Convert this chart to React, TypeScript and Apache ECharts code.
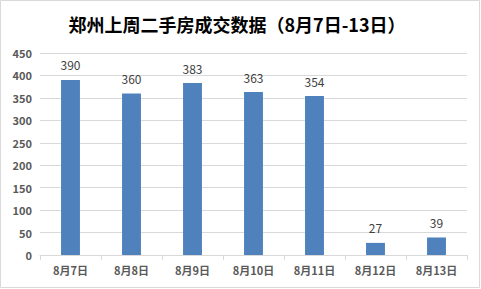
import React, { useEffect, useRef } from "react";
import * as echarts from "echarts";

const categories = ["8月7日", "8月8日", "8月9日", "8月10日", "8月11日", "8月12日", "8月13日"];
const values = [390, 360, 383, 363, 354, 27, 39];
const titleText = "郑州上周二手房成交数据（8月7日-13日）";

export default function App() {
  const ref = useRef<HTMLDivElement>(null);
  useEffect(() => {
    const chart = echarts.init(ref.current!, null, { renderer: "svg" });
    chart.setOption({
      animation: false,
      backgroundColor: "#ffffff",
      title: {
        text: titleText,
        left: 232,
        textAlign: "center",
        top: 10,
        textStyle: {
          fontFamily: "Noto Sans CJK SC",
          fontSize: 18,
          fontWeight: "bold",
          color: "#000000",
        },
      },
      graphic: [
        {
          type: "rect",
          shape: { x: 0.5, y: 0.5, width: 479, height: 287 },
          style: { fill: "none", stroke: "#d9d9d9", lineWidth: 1 },
          silent: true,
        },
      ],
      grid: { left: 40, right: 14, top: 53, bottom: 34 },
      xAxis: {
        type: "category",
        data: categories,
        axisLine: { lineStyle: { color: "#d9d9d9" } },
        axisTick: { show: true, alignWithLabel: false, length: 5, lineStyle: { color: "#d9d9d9" } },
        axisLabel: {
          color: "#595959",
          fontFamily: "Noto Sans CJK SC",
          fontWeight: "bold",
          fontSize: 11,
          margin: 9,
          interval: 0,
        },
      },
      yAxis: {
        type: "value",
        min: 0,
        max: 450,
        interval: 50,
        axisLine: { show: false },
        axisTick: { show: false },
        splitLine: { lineStyle: { color: "#d9d9d9" } },
        axisLabel: {
          color: "#595959",
          fontFamily: "Noto Sans CJK SC",
          fontWeight: "bold",
          fontSize: 11,
          margin: 8,
        },
      },
      series: [
        {
          type: "bar",
          data: values,
          barWidth: "31%",
          itemStyle: { color: "#4f81bd" },
          label: {
            show: true,
            position: "top",
            distance: 9,
            color: "#404040",
            fontFamily: "Noto Sans CJK SC",
            fontSize: 12,
          },
        },
      ],
    });
    return () => chart.dispose();
  }, []);
  return (
    <div
      ref={ref}
      style={{ position: "fixed", left: 0, top: 0, width: 481, height: 289 }}
    />
  );
}
